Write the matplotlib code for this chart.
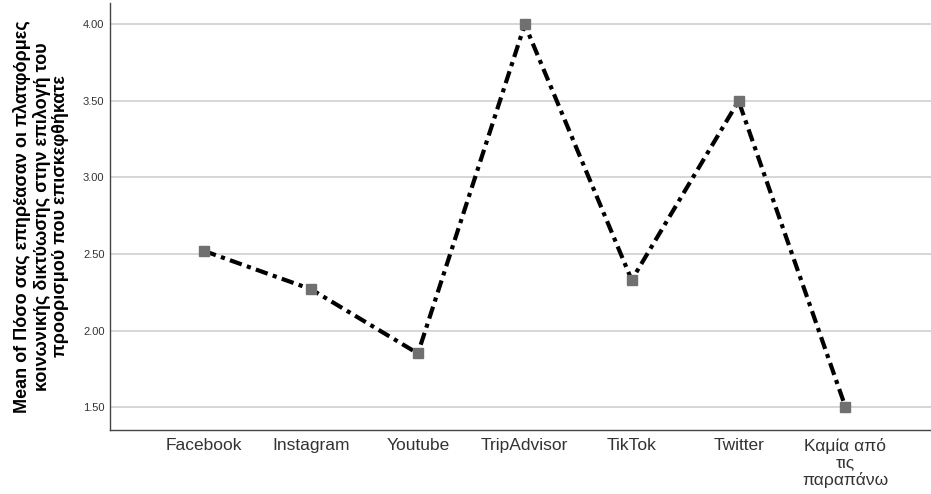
import matplotlib
matplotlib.use("Agg")
import matplotlib.pyplot as plt

plt.rcParams['font.family'] = ['Liberation Sans', 'DejaVu Sans']

categories = ["Facebook", "Instagram", "Youtube", "TripAdvisor", "TikTok",
              "Twitter", "Καμία από\nτις\nπαραπάνω"]
means = [2.52, 2.27, 1.85, 4.00, 2.33, 3.50, 1.50]
yticks = [1.50, 2.00, 2.50, 3.00, 3.50, 4.00]
ylabel = ("Mean of Πόσο σας επηρέασαν οι πλατφόρμες\n"
          "κοινωνικής δικτύωσης στην επιλογή του\n"
          "προορισμού που επισκεφθήκατε")

fig = plt.figure(figsize=(9.31, 4.94), dpi=100)
ax = fig.add_axes([110 / 931, 1 - 430 / 494, 1 - 110 / 931, (430 - 3) / 494])

x = list(range(len(categories)))
ax.plot(x, means, color="black", linewidth=3, linestyle=(0, (3, 1.3, 1, 1.3)),
        marker="s", markersize=7, markerfacecolor="#707070",
        markeredgecolor="#707070", zorder=3)

ax.set_xlim(-0.88, 6.8)
ax.set_ylim(1.35, 4.14)
ax.set_yticks(yticks)
ax.set_yticklabels([f"{v:.2f}" for v in yticks], fontsize=8, color="#333333")
ax.set_xticks(x)
ax.set_xticklabels(categories, fontsize=12.5, color="#333333", linespacing=1.1)
ax.tick_params(axis="both", length=0)
ax.tick_params(axis="y", pad=4)
ax.tick_params(axis="x", pad=6)

ax.grid(axis="y", color="#cfcfcf", linewidth=1.2)
ax.set_axisbelow(True)
for side in ("top", "right"):
    ax.spines[side].set_visible(False)
for side in ("left", "bottom"):
    ax.spines[side].set_color("#444444")
    ax.spines[side].set_linewidth(1.0)

ax.set_ylabel(ylabel, fontsize=13, fontweight="bold", linespacing=1.1,
              labelpad=10)

fig.savefig("out.png", dpi=100)
